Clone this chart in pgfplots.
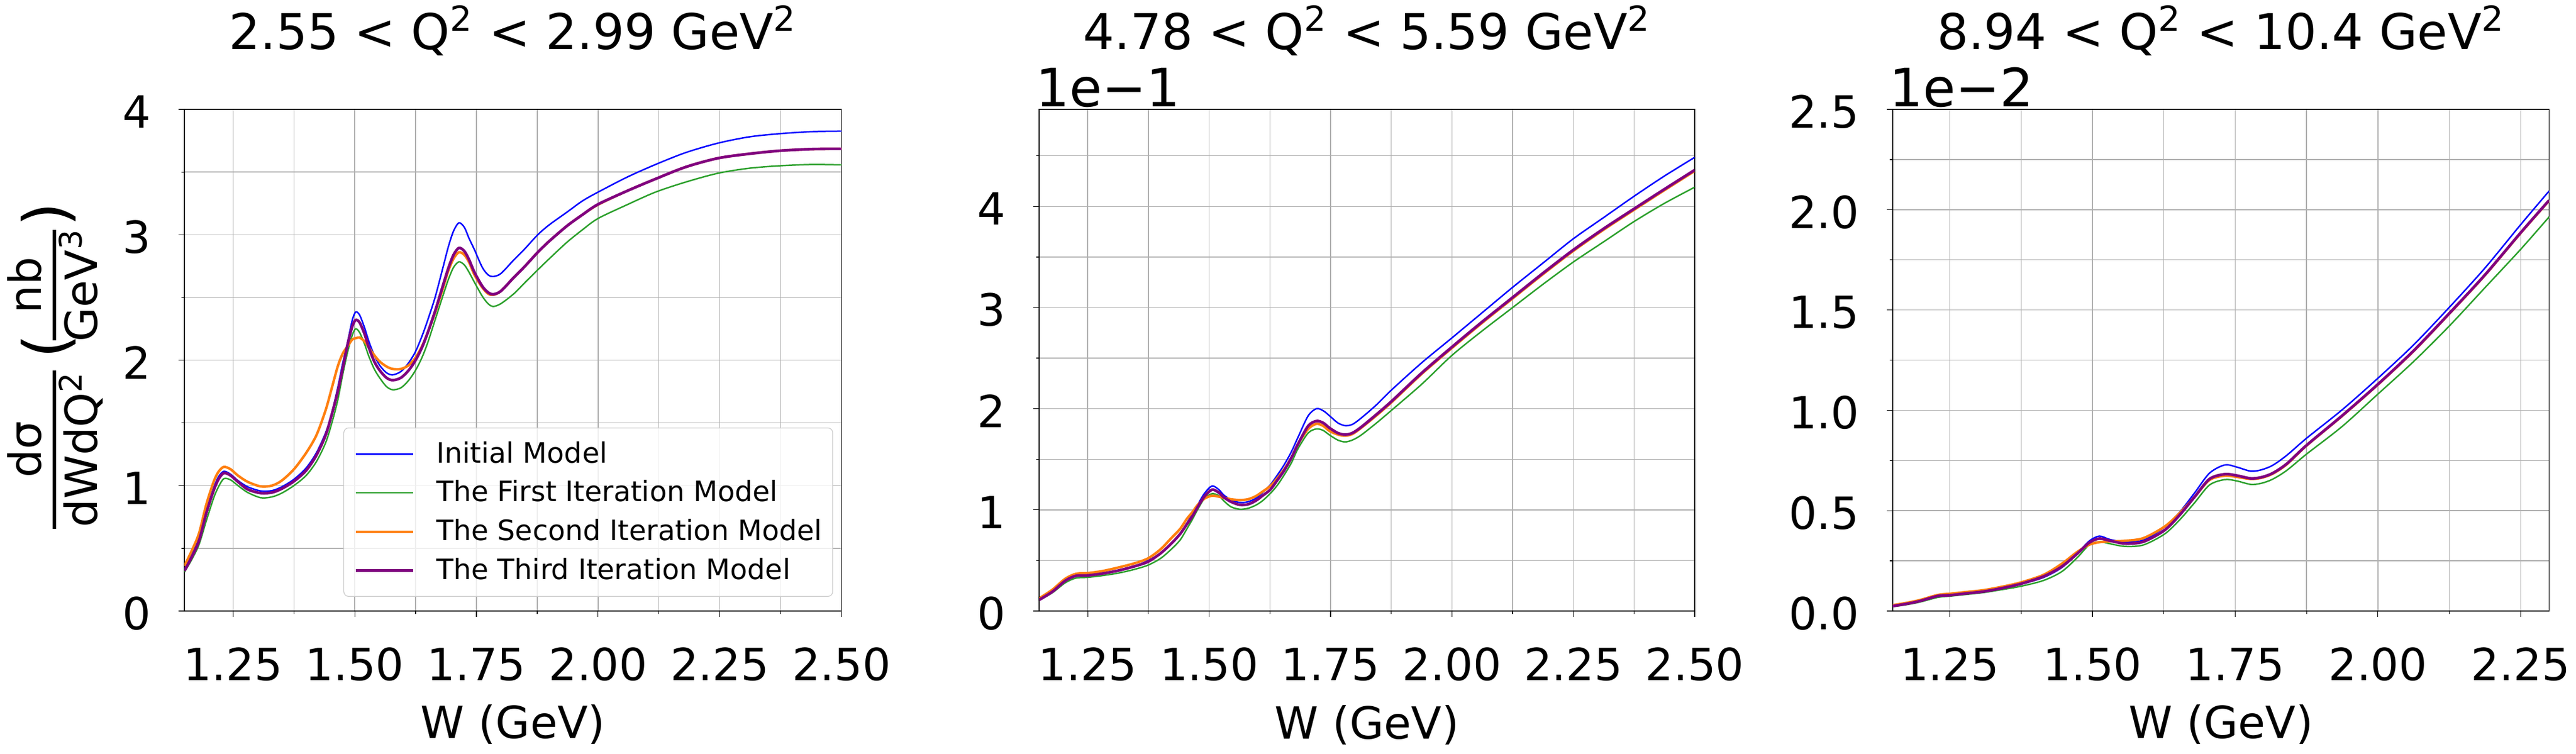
\documentclass[border=0pt]{standalone}
\usepackage{fontspec}
\setmainfont{DejaVu Sans}
\usepackage{graphicx}
\usepackage{pgfplots}
\usepackage{pgfplotstable}
\pgfplotsset{compat=1.18}

\definecolor{cblue}{RGB}{0,0,255}
\definecolor{cgreen}{RGB}{44,160,44}
\definecolor{corange}{RGB}{255,127,14}
\definecolor{cpurple}{RGB}{128,0,128}
\definecolor{cgrid}{RGB}{176,176,176}
\definecolor{clegend}{RGB}{204,204,204}

\newcommand\fracbar[3]{%
  \raisebox{0.25em}{%
    \makebox[0pt][l]{\makebox[#1]{\raisebox{0.29em}{#2}}}%
    \makebox[0pt][l]{\makebox[#1]{\raisebox{-0.97em}{#3}}}%
    \rule[-0.7pt]{#1}{1.4pt}}}

\pgfplotstableread{
W a b c d
1.15 0.33 0.31 0.36 0.32
1.165 0.45 0.41 0.48 0.43
1.18 0.58 0.53 0.62 0.56
1.195 0.80 0.72 0.85 0.78
1.21 0.98 0.90 1.03 0.96
1.22 1.07 0.99 1.11 1.05
1.231 1.114 1.055 1.149 1.10
1.245 1.09 1.045 1.13 1.08
1.26 1.04 1.00 1.08 1.03
1.28 0.99 0.945 1.03 0.97
1.307 0.957 0.903 0.993 0.94
1.33 0.96 0.91 1.00 0.945
1.35 0.99 0.94 1.04 0.975
1.375 1.05 1.00 1.13 1.034
1.40 1.14 1.08 1.26 1.12
1.421 1.26 1.19 1.40 1.24
1.44 1.42 1.34 1.60 1.40
1.453 1.58 1.50 1.78 1.57
1.465 1.78 1.68 1.95 1.75
1.475 1.97 1.88 2.05 1.93
1.485 2.14 2.06 2.11 2.12
1.495 2.32 2.20 2.165 2.27
1.502 2.384 2.25 2.175 2.32
1.51 2.36 2.22 2.18 2.30
1.52 2.26 2.13 2.15 2.21
1.529 2.15 2.03 2.10 2.10
1.54 2.04 1.93 2.04 1.99
1.551 1.96 1.86 1.99 1.92
1.565 1.90 1.79 1.95 1.86
1.578 1.883 1.764 1.93 1.84
1.595 1.91 1.78 1.93 1.86
1.611 1.98 1.84 1.96 1.92
1.625 2.07 1.92 2.02 2.00
1.638 2.19 2.02 2.11 2.10
1.65 2.32 2.14 2.22 2.22
1.665 2.50 2.32 2.38 2.39
1.68 2.72 2.50 2.56 2.58
1.692 2.90 2.64 2.71 2.73
1.703 3.03 2.74 2.81 2.84
1.714 3.095 2.784 2.86 2.895
1.725 3.06 2.76 2.84 2.87
1.735 2.97 2.70 2.78 2.80
1.746 2.88 2.62 2.68 2.70
1.762 2.74 2.51 2.58 2.59
1.774 2.68 2.45 2.53 2.54
1.784 2.667 2.428 2.52 2.525
1.80 2.69 2.45 2.55 2.55
1.827 2.80 2.53 2.66 2.66
1.85 2.89 2.62 2.75 2.75
1.876 3.00 2.72 2.86 2.86
1.90 3.08 2.81 2.95 2.95
1.936 3.18 2.94 3.07 3.07
1.968 3.27 3.04 3.16 3.16
2.0 3.34 3.13 3.24 3.243
2.06 3.46 3.24 3.35 3.35
2.118 3.56 3.34 3.445 3.445
2.18 3.655 3.42 3.54 3.54
2.246 3.73 3.49 3.61 3.61
2.31 3.78 3.53 3.645 3.645
2.374 3.806 3.55 3.67 3.67
2.44 3.822 3.56 3.683 3.683
2.5 3.826 3.557 3.685 3.685
}\pone

\pgfplotstableread{
W a b c d
1.15 0.118 0.107 0.125 0.11
1.177 0.196 0.18 0.21 0.19
1.204 0.30 0.28 0.32 0.30
1.226 0.348 0.326 0.368 0.348
1.25 0.355 0.333 0.375 0.352
1.28 0.37 0.35 0.395 0.37
1.313 0.397 0.375 0.43 0.40
1.345 0.44 0.41 0.47 0.44
1.374 0.498 0.453 0.52 0.487
1.40 0.57 0.52 0.61 0.57
1.422 0.666 0.61 0.72 0.666
1.44 0.76 0.70 0.81 0.76
1.454 0.867 0.81 0.91 0.856
1.466 0.96 0.91 0.98 0.94
1.476 1.046 1.0 1.046 1.024
1.49 1.16 1.11 1.11 1.13
1.506 1.236 1.16 1.14 1.20
1.52 1.20 1.14 1.13 1.17
1.53 1.147 1.09 1.12 1.125
1.545 1.10 1.03 1.105 1.08
1.563 1.073 1.006 1.097 1.05
1.58 1.08 1.015 1.105 1.055
1.596 1.113 1.046 1.135 1.09
1.61 1.17 1.09 1.18 1.14
1.626 1.247 1.162 1.236 1.20
1.64 1.34 1.24 1.31 1.29
1.655 1.449 1.348 1.404 1.392
1.67 1.58 1.47 1.52 1.52
1.683 1.717 1.605 1.65 1.65
1.704 1.93 1.76 1.80 1.83
1.721 2.0 1.80 1.85 1.878
1.735 1.98 1.785 1.83 1.86
1.748 1.93 1.74 1.78 1.81
1.765 1.86 1.69 1.745 1.76
1.78 1.833 1.672 1.733 1.744
1.795 1.845 1.69 1.75 1.76
1.813 1.907 1.739 1.81 1.818
1.845 2.04 1.86 1.935 1.945
1.876 2.187 1.986 2.065 2.075
1.938 2.455 2.243 2.345 2.354
2.0 2.70 2.527 2.60 2.61
2.0625 2.95 2.77 2.85 2.86
2.125 3.20 3.00 3.09 3.10
2.1875 3.44 3.23 3.33 3.34
2.25 3.68 3.45 3.56 3.57
2.3125 3.89 3.65 3.77 3.78
2.375 4.10 3.85 3.966 3.976
2.4375 4.30 4.03 4.16 4.17
2.5 4.485 4.19 4.35 4.36
}\ptwo

\pgfplotstableread{
W a b c d
1.15 0.0245 0.0216 0.029 0.0245
1.175 0.036 0.032 0.041 0.036
1.198 0.049 0.045 0.055 0.050
1.229 0.074 0.068 0.080 0.075
1.25 0.080 0.074 0.086 0.0785
1.28 0.089 0.083 0.095 0.088
1.309 0.098 0.092 0.104 0.097
1.34 0.113 0.106 0.120 0.113
1.374 0.133 0.123 0.142 0.135
1.414 0.167 0.152 0.180 0.172
1.446 0.216 0.196 0.235 0.221
1.473 0.285 0.265 0.294 0.285
1.494 0.348 0.329 0.330 0.340
1.512 0.373 0.345 0.343 0.361
1.531 0.356 0.335 0.347 0.350
1.557 0.345 0.322 0.350 0.336
1.589 0.353 0.329 0.363 0.345
1.626 0.417 0.383 0.420 0.402
1.652 0.49 0.452 0.486 0.476
1.679 0.589 0.54 0.569 0.569
1.705 0.687 0.628 0.653 0.658
1.732 0.728 0.655 0.674 0.682
1.753 0.717 0.648 0.668 0.675
1.777 0.697 0.631 0.658 0.661
1.795 0.703 0.636 0.663 0.666
1.815 0.725 0.656 0.683 0.686
1.84 0.775 0.700 0.730 0.733
1.875 0.861 0.782 0.824 0.826
1.9375 1.003 0.92 0.972 0.974
2.0 1.16 1.081 1.128 1.13
2.0625 1.326 1.243 1.295 1.297
2.125 1.513 1.42 1.481 1.483
2.1875 1.709 1.611 1.673 1.675
2.25 1.925 1.802 1.883 1.885
2.30 2.093 1.964 2.045 2.047
}\pthree

\tikzset{
  ptitle/.style={anchor=base, inner sep=0pt, font=\fontsize{20}{24}\selectfont},
  poffset/.style={anchor=base west, inner sep=0pt, font=\fontsize{21.5}{21.5}\selectfont, xshift=-1.5pt, yshift=1.1pt},
}

\pgfplotsset{
  panel/.style={
    scale only axis,
    height=203.76pt,
    anchor=south west,
    tick align=outside,
    tick pos=left,
    grid=both,
    major grid style={cgrid, line width=0.35pt},
    minor grid style={cgrid, line width=0.35pt},
    axis line style={line width=0.3pt},
    every tick/.style={black, line width=0.3pt},
    major tick length=2.4pt,
    minor tick length=1.2pt,
    xmin=1.15,
    clip mode=individual,
    ticklabel style={font=\fontsize{18}{18}\selectfont, inner sep=0pt},
    xticklabel style={anchor=base, yshift=-25.9pt},
    yticklabel style={anchor=east, xshift=-11pt, yshift=-1pt},
    xlabel style={at={(axis description cs:0.5,-0.2544)}, anchor=base, font=\fontsize{18}{18}\selectfont, inner sep=0pt},
    xlabel={W (GeV)},
    every axis plot/.append style={line join=round, smooth, tension=0.5},
  },
  pblue/.style={cblue, line width=0.6pt},
  pgreen/.style={cgreen, line width=0.6pt},
  porange/.style={corange, line width=1.0pt},
  ppurple/.style={cpurple, line width=1.1pt},
}

\begin{document}
\begin{tikzpicture}
\path[use as bounding box] (0,0) rectangle (1045.92pt,306pt);

% Panel 1
\begin{axis}[panel,
  at={(74.88pt,57.84pt)}, width=266.76pt,
  xmax=2.5, ymin=0, ymax=4,
  xtick={1.25,1.5,1.75,2,2.25,2.5},
  xticklabels={1.25,1.50,1.75,2.00,2.25,2.50},
  minor xtick={1.375,1.625,1.875,2.125,2.375},
  ytick={0,1,2,3,4}, yticklabels={0,1,2,3,4},
  minor ytick={0.5,1.5,2.5,3.5},
  extra description/.code={\node[ptitle] at (0.5,1.119) {2.55 < Q\textsuperscript{2} < 2.99 GeV\textsuperscript{2}};},
  ylabel={\fracbar{64.3pt}{dσ}{dWdQ\textsuperscript{2}}\hspace{4.9pt}\raisebox{-0.05em}{\scalebox{1.39}{(}}\hspace{-2.6pt}\fracbar{44.9pt}{nb}{GeV\textsuperscript{3}}\hspace{1.5pt}\raisebox{-0.05em}{\scalebox{1.39}{)}}},
  ylabel style={at={(axis description cs:-0.1233,0.4894)}, anchor=south, font=\fontsize{18}{18}\selectfont, inner sep=0pt},
  legend cell align=left,
  legend image code/.code={\draw[#1, line cap=butt] (0pt,0pt) -- (23.3pt,0pt);},
  legend style={
    at={(axis description cs:0.242,0.0283)}, anchor=south west,
    font=\fontsize{11.4}{13}\selectfont,
    draw=clegend, line width=0.3pt, rounded corners=2pt,
    fill=white, fill opacity=0.8, text opacity=1,
    inner xsep=4.3pt, inner ysep=5.5pt,
    row sep=5.6pt,
    nodes={inner sep=0pt},
    /tikz/every odd column/.append style={column sep=8.9pt},
  },
]
\addplot[pblue] table[x=W,y=a]{\pone};
\addlegendentry{Initial Model}
\addplot[pgreen] table[x=W,y=b]{\pone};
\addlegendentry{The First Iteration Model}
\addplot[porange] table[x=W,y=c]{\pone};
\addlegendentry{The Second Iteration Model}
\addplot[ppurple] table[x=W,y=d]{\pone};
\addlegendentry{The Third Iteration Model}
\end{axis}

% Panel 2
\begin{axis}[panel,
  at={(421.92pt,57.84pt)}, width=266.16pt,
  xmax=2.5, ymin=0, ymax=4.96,
  xtick={1.25,1.5,1.75,2,2.25,2.5},
  xticklabels={1.25,1.50,1.75,2.00,2.25,2.50},
  minor xtick={1.375,1.625,1.875,2.125,2.375},
  ytick={0,1,2,3,4}, yticklabels={0,1,2,3,4},
  minor ytick={0.5,1.5,2.5,3.5,4.5},
  extra description/.code={%
    \node[ptitle] at (0.5,1.119) {4.78 < Q\textsuperscript{2} < 5.59 GeV\textsuperscript{2}};
    \node[poffset] at (0,1) {1e−1};},
]
\addplot[pblue] table[x=W,y=a]{\ptwo};
\addplot[pgreen] table[x=W,y=b]{\ptwo};
\addplot[porange] table[x=W,y=c]{\ptwo};
\addplot[ppurple] table[x=W,y=d]{\ptwo};
\end{axis}

% Panel 3
\begin{axis}[panel,
  at={(768.48pt,57.84pt)}, width=266.52pt,
  xmax=2.3, ymin=0, ymax=2.5,
  xtick={1.25,1.5,1.75,2,2.25},
  xticklabels={1.25,1.50,1.75,2.00,2.25},
  minor xtick={1.375,1.625,1.875,2.125},
  ytick={0,0.5,1,1.5,2,2.5}, yticklabels={0.0,0.5,1.0,1.5,2.0,2.5},
  minor ytick={0.25,0.75,1.25,1.75,2.25},
  extra description/.code={%
    \node[ptitle] at (0.5,1.119) {8.94 < Q\textsuperscript{2} < 10.4 GeV\textsuperscript{2}};
    \node[poffset] at (0,1) {1e−2};},
]
\addplot[pblue] table[x=W,y=a]{\pthree};
\addplot[pgreen] table[x=W,y=b]{\pthree};
\addplot[porange] table[x=W,y=c]{\pthree};
\addplot[ppurple] table[x=W,y=d]{\pthree};
\end{axis}
\end{tikzpicture}
\end{document}
